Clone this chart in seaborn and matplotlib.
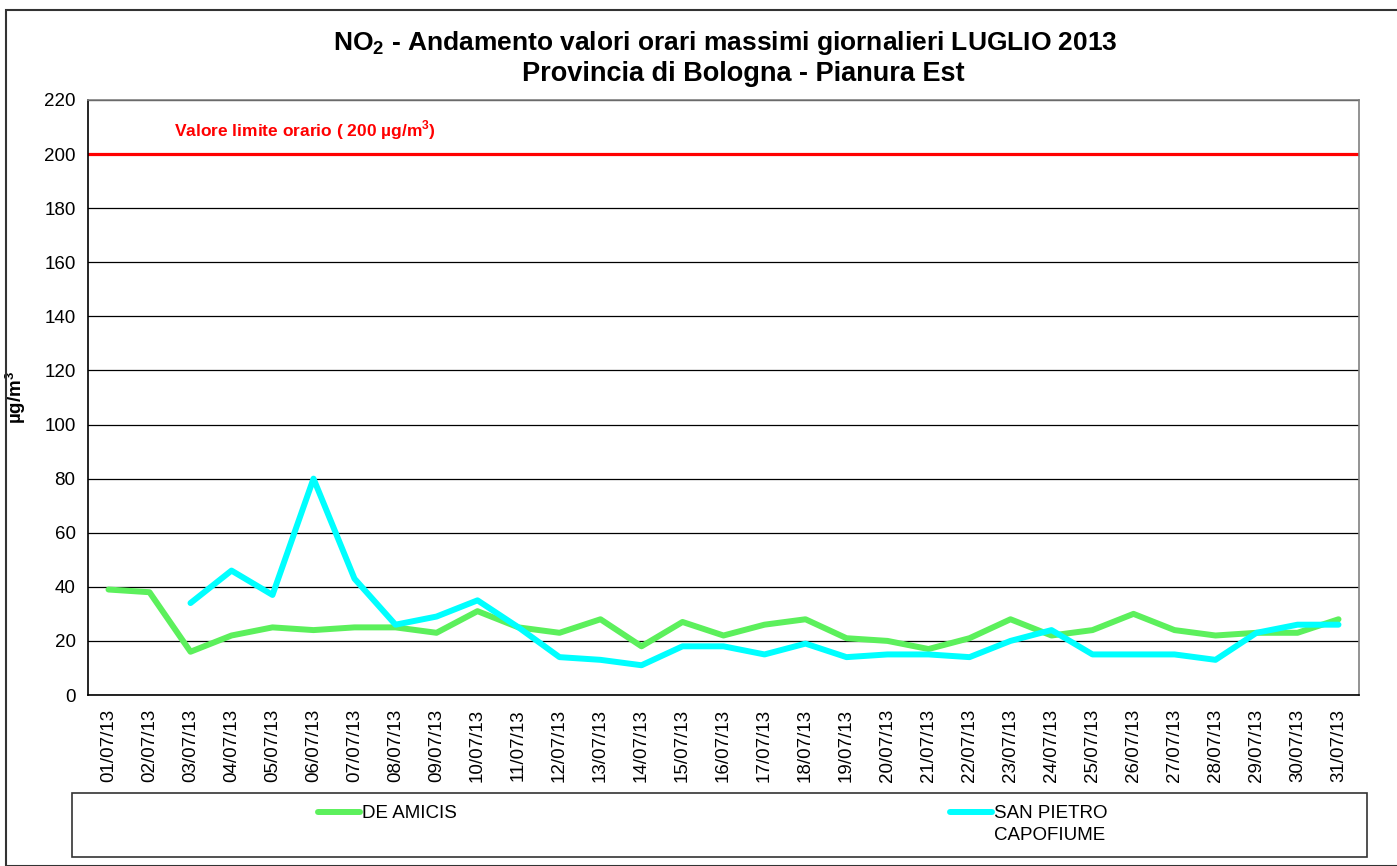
import numpy as np
import pandas as pd
import matplotlib
matplotlib.use("Agg")
import matplotlib.pyplot as plt
from matplotlib.patches import Rectangle
from matplotlib.legend_handler import HandlerLine2D
import seaborn as sns

# daily max hourly NO2, July 2013
days = [f"{d:02d}/07/13" for d in range(1, 32)]
de_amicis = [39, 38, 16, 22, 25, 24, 25, 25, 23, 31, 25, 23, 28, 18, 27, 22,
             26, 28, 21, 20, 17, 21, 28, 22, 24, 30, 24, 22, 23, 23, 28]
san_pietro = [np.nan, np.nan, 34, 46, 37, 80, 43, 26, 29, 35, 25, 14, 13, 11, 18, 18,
              15, 19, 14, 15, 15, 14, 20, 24, 15, 15, 15, 13, 23, 26, 26]
limit_value = 200
y_ticks = list(range(0, 221, 20))

df = pd.DataFrame({"pos": range(len(days)), "giorno": days,
                   "DE AMICIS": de_amicis, "SAN PIETRO\nCAPOFIUME": san_pietro})


class TopLineHandler(HandlerLine2D):
    # put the legend line next to the first text line, like Excel does
    def create_artists(self, legend, orig_handle, xdescent, ydescent, width, height, fontsize, trans):
        arts = super().create_artists(legend, orig_handle, xdescent, ydescent,
                                      width, height, fontsize, trans)
        for a in arts:
            a.set_ydata(np.asarray(a.get_ydata()) + 0.65 * fontsize)
        return arts


sns.set_style("white")
plt.rcParams["font.family"] = ["Liberation Sans", "DejaVu Sans"]
plt.rcParams["mathtext.fontset"] = "custom"
plt.rcParams["mathtext.rm"] = "Liberation Sans"
plt.rcParams["mathtext.bf"] = "Liberation Sans:bold"
for k in ["text.color", "axes.labelcolor", "xtick.color", "ytick.color"]:
    plt.rcParams[k] = "black"

fig = plt.figure(figsize=(13.97, 8.66), dpi=100)
ax = fig.add_axes([88 / 1397, 1 - 695 / 866, 1271 / 1397, 595 / 866])

sns.lineplot(data=df, x="pos", y="DE AMICIS", color="#5CF05C", linewidth=4.3,
             ax=ax, label="DE AMICIS", solid_capstyle="round")
sns.lineplot(data=df, x="pos", y="SAN PIETRO\nCAPOFIUME", color="#00FFFF", linewidth=4.3,
             ax=ax, label="SAN PIETRO\nCAPOFIUME", solid_capstyle="round")

ax.axhline(limit_value, color="#FF0000", linewidth=2.3, zorder=1)
ax.text(1.6, limit_value + 4.5, r"Valore limite orario ( 200 µg/m$^{\mathbf{3}}$)", color="#FF0000",
        fontsize=12.5, fontweight="bold", va="bottom", ha="left")

ax.set_xlim(-0.5, len(days) - 0.5)
ax.set_ylim(0, 220)
ax.set_yticks(y_ticks)
ax.set_xticks(range(len(days)))
ax.set_xticklabels(days, rotation=90)
ax.set_xticks(np.arange(-0.5, len(days), 1), minor=True)
ax.tick_params(axis="x", which="major", length=0, labelsize=13.5, pad=10)
ax.tick_params(axis="x", which="minor", length=4, width=1, color="black", direction="out")
ax.tick_params(axis="y", length=4, width=1, color="black", direction="out", labelsize=13.5, pad=5)
ax.yaxis.grid(True, color="black", linewidth=0.9)
ax.set_axisbelow(True)
for s in ["left", "bottom"]:
    ax.spines[s].set_color("black")
    ax.spines[s].set_linewidth(1.2)
for s in ["top", "right"]:
    ax.spines[s].set_color("#808080")
    ax.spines[s].set_linewidth(1.2)

ax.set_xlabel("")
ax.set_ylabel(r"µg/m$^{\mathbf{3}}$", fontsize=13.5, fontweight="bold")
ax.yaxis.set_label_coords(-0.047, 0.5)

fig.text(725 / 1397, 1 - 43 / 866, r"$\mathbf{NO_2}$ - Andamento valori orari massimi giornalieri LUGLIO 2013",
         ha="center", va="center", fontsize=19, fontweight="bold")
fig.text(743 / 1397, 1 - 74 / 866, "Provincia di Bologna - Pianura Est",
         ha="center", va="center", fontsize=19.5, fontweight="bold")

# outer frame and legend box
fig.patches.append(Rectangle((6 / 1397, 0), 1.2, 1 - 10 / 866, transform=fig.transFigure,
                             fill=False, edgecolor="#333333", linewidth=1.5))
fig.patches.append(Rectangle((72 / 1397, 1 - 857 / 866), 1295 / 1397, 64 / 866,
                             transform=fig.transFigure, fill=False, edgecolor="#333333",
                             linewidth=1.2))

ax.get_legend().remove()
handles, labels = ax.get_legend_handles_labels()
leg_kw = dict(loc="upper left", frameon=False, fontsize=13.5, handlelength=2.24,
              handletextpad=0.1, borderpad=0, borderaxespad=0, labelspacing=0.1)
fig.legend(handles[:1], labels[:1], bbox_to_anchor=(318 / 1397, 1 - 805 / 866), **leg_kw)
leg2 = fig.legend(handles[1:], labels[1:], bbox_to_anchor=(950 / 1397, 1 - 805 / 866),
                  handler_map={handles[1]: TopLineHandler()}, **leg_kw)
for t in leg2.get_texts():
    t.set_linespacing(1.4)

fig.savefig("out.png", dpi=100)
